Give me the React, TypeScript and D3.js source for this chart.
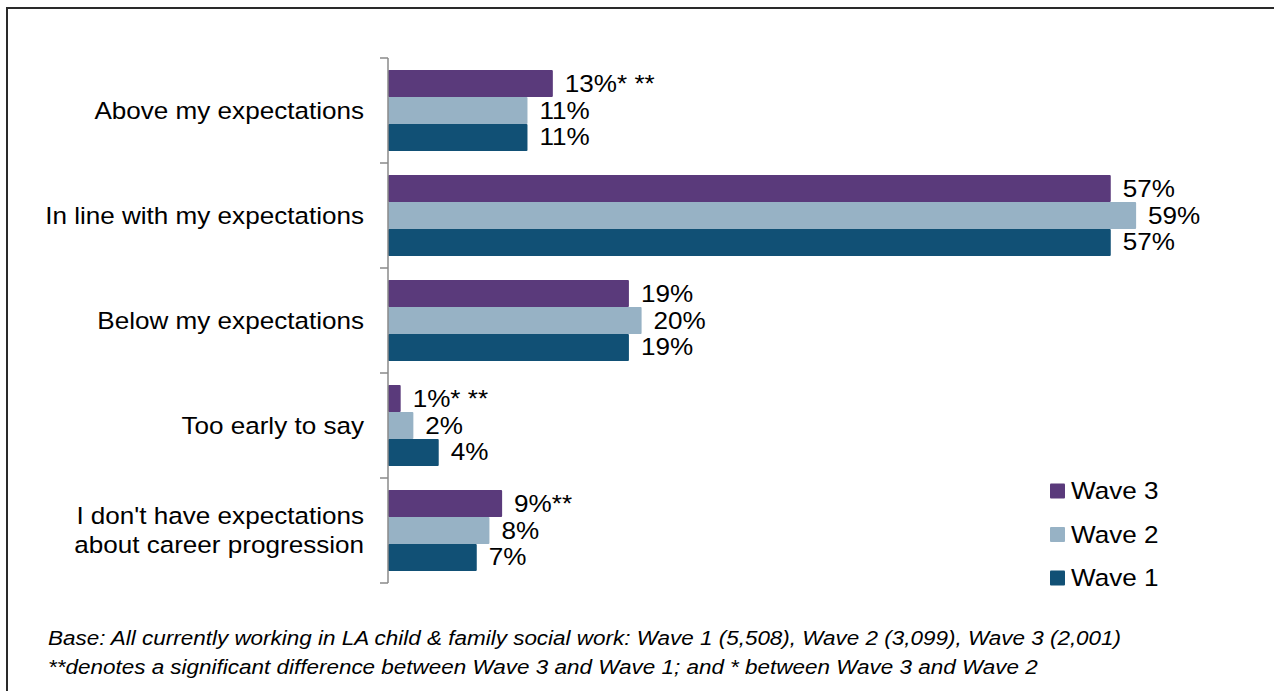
import React from "react";
import * as d3 from "d3";

const categories = [
  ["Above my expectations"],
  ["In line with my expectations"],
  ["Below my expectations"],
  ["Too early to say"],
  ["I don't have expectations", "about career progression"],
];
const seriesNames = ["Wave 3", "Wave 2", "Wave 1"];
const wave3 = [13, 57, 19, 1, 9];
const wave2 = [11, 59, 20, 2, 8];
const wave1 = [11, 57, 19, 4, 7];
const wave3Marks = ["* **", "", "", "* **", "**"];
const wave2Marks = ["", "", "", "", ""];
const wave1Marks = ["", "", "", "", ""];
const colors = ["#5a3a7b", "#97b2c5", "#115075"];
const footnotes = [
  "Base: All currently working in LA child & family social work: Wave 1 (5,508), Wave 2 (3,099), Wave 3 (2,001)",
  "**denotes a significant difference between Wave 3 and Wave 1; and * between Wave 3 and Wave 2",
];

const W = 1274;
const H = 691;
const FONT = "'Liberation Sans', Arial, Helvetica, sans-serif";
const SX = 1.11;
const FS = 23.5;

function T({ x, y, anchor = "start", size = FS, italic = false, children }: any) {
  return (
    <g transform={`translate(${x},${y}) scale(${SX},1)`}>
      <text
        textAnchor={anchor}
        dominantBaseline="central"
        fontFamily={FONT}
        fontSize={size}
        fontStyle={italic ? "italic" : "normal"}
        fill="#000"
      >
        {children}
      </text>
    </g>
  );
}

export default function App() {
  const series = [
    { name: seriesNames[0], values: wave3, marks: wave3Marks, color: colors[0] },
    { name: seriesNames[1], values: wave2, marks: wave2Marks, color: colors[1] },
    { name: seriesNames[2], values: wave1, marks: wave1Marks, color: colors[2] },
  ];
  const x0 = 388;
  const x = d3.scaleLinear().domain([0, 60]).range([x0, x0 + 60 * 12.68]);
  const y = d3
    .scaleBand<number>()
    .domain(d3.range(categories.length))
    .range([58, 583])
    .padding(0);
  const bw = y.bandwidth();
  const inner = d3
    .scaleBand<number>()
    .domain(d3.range(series.length))
    .range([bw * 0.115, bw * 0.885])
    .padding(0);
  const boundaries = d3.range(categories.length + 1).map((i) => 58 + i * bw);

  const legendY = d3.scalePoint<number>().domain(d3.range(3)).range([491, 578]);

  return (
    <svg
      width={W}
      height={H}
      style={{ position: "absolute", left: 0, top: 0, background: "#fff" }}
    >
      <rect x={0} y={0} width={W} height={H} fill="#fff" />
      <path d={`M7,${H} L7,8 L${W},8`} fill="none" stroke="#2a2a2a" strokeWidth={2} />

      {series.map((s, si) =>
        s.values.map((v, ci) => {
          const by = (y(ci) as number) + (inner(si) as number);
          const bh = inner.bandwidth();
          return (
            <g key={`${si}-${ci}`}>
              <rect
                x={x(0)}
                y={by}
                width={x(v) - x(0)}
                height={bh}
                fill={s.color}
                rx={1}
              />
              <T x={x(v) + 12} y={by + bh / 2}>
                {`${v}%${s.marks[ci]}`}
              </T>
            </g>
          );
        })
      )}

      <line x1={x0} x2={x0} y1={58} y2={583} stroke="#8a8a8a" strokeWidth={1.5} />
      {boundaries.map((b, i) => (
        <line key={i} x1={380} x2={x0} y1={b} y2={b} stroke="#8a8a8a" strokeWidth={1.5} />
      ))}

      {categories.map((lines, ci) => {
        const cy = (y(ci) as number) + bw / 2;
        const lh = 29;
        return lines.map((ln, li) => (
          <T
            key={`${ci}-${li}`}
            x={364}
            y={cy + (li - (lines.length - 1) / 2) * lh}
            anchor="end"
          >
            {ln}
          </T>
        ));
      })}

      {series.map((s, si) => (
        <g key={s.name}>
          <rect
            x={1050}
            y={(legendY(si) as number) - 7.5}
            width={15}
            height={15}
            fill={s.color}
            rx={1}
          />
          <T x={1071} y={legendY(si) as number}>
            {s.name}
          </T>
        </g>
      ))}

      {footnotes.map((f, i) => (
        <T key={i} x={48} y={638 + i * 29} size={20.25} italic>
          {f}
        </T>
      ))}
    </svg>
  );
}
